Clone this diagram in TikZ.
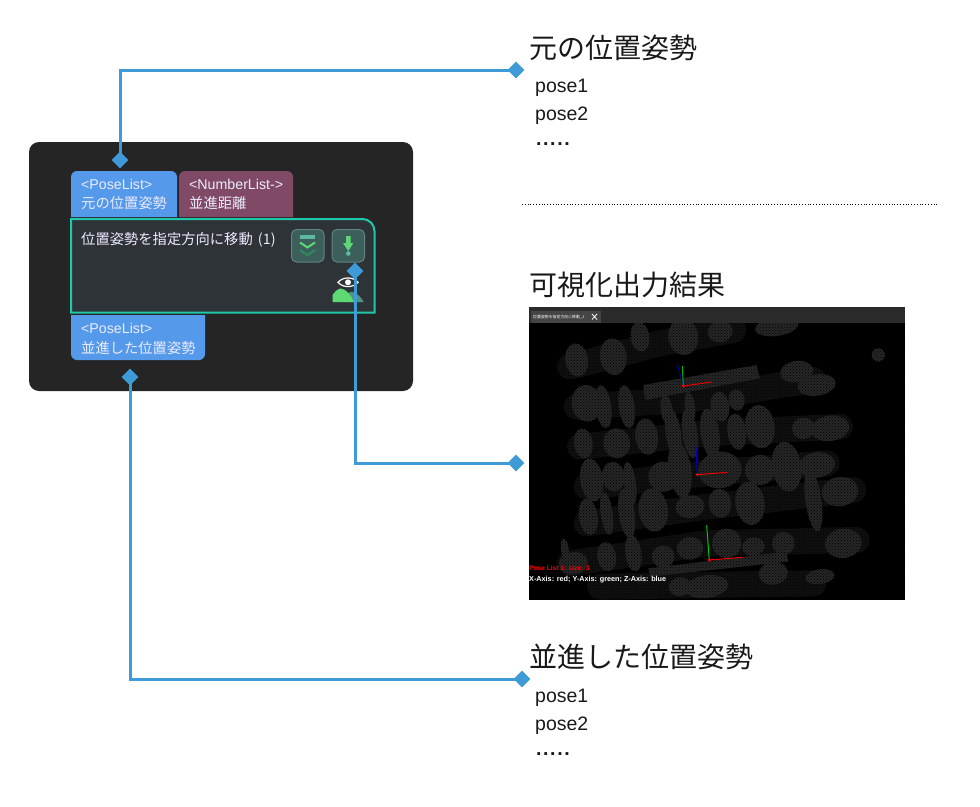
\documentclass[tikz,border=0pt]{standalone}
\usepackage{fontspec}
\setmainfont{Liberation Sans}
\newfontfamily\jpfont{Noto Sans CJK JP}
\usepackage{tikz}
\usetikzlibrary{shapes.geometric, patterns}
\definecolor{panelgray}{HTML}{252525}
\definecolor{poseblue}{HTML}{5599EA}
\definecolor{numbermaroon}{HTML}{804A66}
\definecolor{nodeslate}{HTML}{2E3338}
\definecolor{nodeteal}{HTML}{1FC8A8}
\definecolor{wireblue}{HTML}{3F9BD8}
\definecolor{btnfill}{HTML}{3D5F5C}
\definecolor{btnedge}{HTML}{5F8482}
\definecolor{iconteal}{HTML}{5FB8A0}
\definecolor{icongreen}{HTML}{5DD873}
\definecolor{icondark}{HTML}{2F8A5F}
\definecolor{blobgray}{HTML}{272727}
\definecolor{bandgray}{HTML}{101010}
\tikzset{
  wire/.style={draw=wireblue, line width=3pt},
  pin/.style={diamond, fill=wireblue, minimum width=17pt, minimum height=17pt, inner sep=0pt},
  porttext/.style={anchor=west, inner sep=0pt, text=white!92!blue},
  titletext/.style={anchor=west, inner sep=0pt, text=black!90, font=\jpfont\fontsize{28}{30}\selectfont},
  listtext/.style={anchor=west, inner sep=0pt, text=black!90, font=\fontsize{19.5}{22}\selectfont},
  smalljp/.style={font=\jpfont\fontsize{14.3}{16}\selectfont},
  smalllatin/.style={font=\fontsize{14.2}{16}\selectfont},
  iconbutton/.style={fill=btnfill, draw=btnedge, line width=1pt, rounded corners=5pt},
  cloudblob/.style={fill=blobgray},
  cloudband/.style={draw=bandgray, line width=26pt, line cap=round},
}
\begin{document}
\begin{tikzpicture}[x=1pt, y=-1pt]
  \useasboundingbox (0,0) rectangle (980,806);

  % dark panel behind the step
  \fill[panelgray, rounded corners=10pt] (29,142) rectangle (413,391);

  % input ports
  \fill[poseblue] (71,217) [rounded corners=6pt] -- (71,171) -- (177,171) [sharp corners] -- (177,217) -- cycle;
  \fill[numbermaroon] (179,217) [rounded corners=6pt] -- (179,171) -- (293,171) [sharp corners] -- (293,217) -- cycle;
  \node[porttext, smalllatin] (inname) at (81,184) {<PoseList>};
  \node[porttext, smalljp] (inlabel) at (81,203) {元の位置姿勢};
  \node[porttext, smalllatin] (numname) at (189,184) {<NumberList->};
  \node[porttext, smalljp] (numlabel) at (189,203) {並進距離};

  % step body
  \filldraw[fill=nodeslate, draw=nodeteal, line width=2pt]
    (71,219) -- (363,219) [rounded corners=12pt] -- (374.5,219) [sharp corners] -- (374.5,312.5) -- (71,312.5) -- cycle;
  \node[porttext, smalljp] (steptitle) at (81,240) {位置姿勢を指定方向に移動\kern2pt{} (1)};

  % output port
  \fill[poseblue] (71,315) [rounded corners=6pt] -- (71,360) -- (205,360) [sharp corners] -- (205,315) -- cycle;
  \node[porttext, smalllatin] (outname) at (81,328) {<PoseList>};
  \node[porttext, smalljp] (outlabel) at (81,348) {並進した位置姿勢};

  % buttons
  \path[iconbutton] (291.5,229.5) rectangle (324,262);
  \path[iconbutton] (332,229.5) rectangle (364.5,262);
  \fill[iconteal] (299.5,235) rectangle (315,238.7);
  \draw[icongreen, line width=2pt] (300,242.5) -- (307.5,247.5) -- (315,242.5);
  \draw[icondark, line width=2pt] (300,250) -- (307.5,255) -- (315,250);
  \fill[icongreen] (346,236) -- (350.7,236) -- (350.7,243) -- (353.3,243) -- (348.3,251) -- (343,243) -- (346,243) -- cycle;
  \fill[iconteal] (348.3,253.5) circle (2.3);

  % visibility icon
  \fill[iconteal!80!black] (343,302) .. controls (346,295) and (350,290) .. (353,292) .. controls (358,294) and (362,298) .. (363.5,302) -- cycle;
  \fill[icongreen] (332.5,302) -- (332.5,295) .. controls (336,290) and (339,288.5) .. (341,288.5) .. controls (346,289) and (351,295) .. (354,302) -- cycle;
  \draw[white, line width=1.2pt] (338,282.3) .. controls (343,276.5) and (353,276.5) .. (358,282.3) .. controls (353,288) and (343,288) .. (338,282.3) -- cycle;
  \fill[white] (348,282.3) circle (3);

  % pins and connectors
  \node[pin] (inpin) at (120,160) {};
  \node[pin] (origpin) at (516,70) {};
  \node[pin] (vispin) at (355,271) {};
  \node[pin] (imagepin) at (516,463) {};
  \node[pin] (outpin) at (130,377) {};
  \node[pin] (movedpin) at (522,679) {};
  \draw[wire] (inpin.center) |- (origpin.center);
  \draw[wire] (vispin.center) |- (imagepin.center);
  \draw[wire] (outpin.center) |- (movedpin.center);

  % original poses
  \node[titletext] (origtitle) at (529,48) {元の位置姿勢};
  \node[listtext] (origfirst) at (535,88) {pose1};
  \node[listtext] (origsecond) at (535,116) {pose2};
  \node[listtext, font=\bfseries\fontsize{19.5}{22}\selectfont] (origdots) at (536,144) {.\kern1.6pt.\kern1.6pt.\kern1.6pt.\kern1.6pt.};

  % separator
  \coordinate (sepleft) at (522,204);
  \coordinate (sepright) at (939,204);
  \draw[black, dotted, line width=0.8pt] (sepleft) -- (sepright);

  % viewer picture
  \node[titletext] (vistitle) at (529,285) {可視化出力結果};
  \fill[black] (529,307) rectangle (905,600);
  \begin{scope}
    \clip (529,307) rectangle (905,600);
    \begin{scope}[shift={(520,300)}, x=0.3333pt, y=-0.3333pt]
      % shafts under the rollers
      \draw[cloudband] (150,200) -- (420,130) -- (640,90);
      \draw[cloudband] (170,320) -- (500,300) -- (880,240);
      \draw[cloudband] (180,440) -- (560,400) -- (960,380);
      \draw[cloudband] (200,560) -- (560,520) -- (920,490);
      \draw[cloudband] (200,670) -- (560,620) -- (1000,570);
      \draw[cloudband] (150,790) -- (560,730) -- (1010,720);
      \draw[cloudband] (240,860) -- (880,850);
      \foreach \cx/\cy/\rx/\ry in {
        170/180/34/50, 280/170/40/55, 360/110/28/45, 490/110/45/55, 600/95/38/32, 770/80/65/28,
        830/215/50/32, 890/255/58/32, 1075/165/20/20,
        200/310/45/55, 250/320/24/65, 320/320/24/65, 440/330/18/45, 510/320/15/45, 600/320/28/45, 650/300/24/32,
        930/385/58/38, 850/385/34/32, 720/380/44/65, 650/395/28/55, 570/400/28/75, 510/400/23/75, 460/400/23/75, 380/410/34/55, 290/430/40/45, 190/430/28/45,
        215/540/34/65, 280/530/34/45, 330/550/18/65, 430/530/45/45, 480/510/34/85, 600/510/65/55, 720/510/45/45, 800/500/44/75, 890/495/55/38,
        960/575/55/44, 880/600/24/95, 690/610/44/65, 600/610/34/44, 510/620/44/34, 400/630/44/65, 320/640/24/75, 260/640/18/65, 205/650/28/55,
        970/730/55/44, 790/730/34/34, 700/740/34/28, 620/730/44/44, 510/745/40/34, 430/770/34/34, 340/760/24/55, 260/770/28/44, 160/790/44/34, 135/750/12/34,
        760/820/44/34, 560/860/65/34, 900/830/44/22, 480/860/34/28} {
        \fill[cloudblob, rotate around={8:(\cx,\cy)}] (\cx,\cy) ellipse [x radius=\rx, y radius=\ry];
      }
      % long bars of the parts
      \fill[cloudblob] (370,255) -- (710,195) -- (720,235) -- (375,300) -- cycle;
      \fill[cloudblob] (385,805) -- (800,755) -- (805,785) -- (390,830) -- cycle;
      \fill[pattern=crosshatch dots, pattern color=black] (20,60) rectangle (1160,900);
      % axes of the poses
      \draw[blue!60!black, line width=1pt] (490,258) -- (472,192);
      \draw[green!70!black, line width=1pt] (490,258) -- (487,198);
      \draw[red!90!black, line width=1pt] (490,258) -- (575,246);
      \draw[blue!80!black, line width=1pt] (532,524) -- (528,440);
      \draw[red!90!black, line width=1pt] (532,524) -- (622,517);
      \draw[green!80!black, line width=1pt] (568,780) -- (560,676);
      \draw[red!90!black, line width=1pt] (568,780) -- (670,772);
      \foreach \px/\py in {490/258, 532/524, 568/780} {
        \fill[red] (\px,\py) circle (5);
      }
    \end{scope}
  \end{scope}
  \fill[black!83] (529,307) rectangle (905,323);
  \fill[black!73] (531,311) rectangle (601,322.5);
  \node[anchor=west, inner sep=0pt, text=white!70, font=\jpfont\fontsize{3.9}{5}\selectfont] (tabname) at (533,317) {位置姿勢を指定方向に移動\_1};
  \draw[white!85, line width=0.8pt] (592,314) -- (597,319.5) (597,314) -- (592,319.5);
  \node[anchor=west, inner sep=0pt, text=red, font=\bfseries\fontsize{6.6}{8}\selectfont] (listsize) at (529,568) {Pose List 1: size: 3};
  \node[anchor=west, inner sep=0pt, text=white, font=\bfseries\fontsize{7.25}{8}\selectfont] (axisnote) at (529,580) {X-Axis: red; Y-Axis: green; Z-Axis: blue};

  % moved poses
  \node[titletext] (movedtitle) at (529,657) {並進した位置姿勢};
  \node[listtext] (movedfirst) at (535,698) {pose1};
  \node[listtext] (movedsecond) at (535,726) {pose2};
  \node[listtext, font=\bfseries\fontsize{19.5}{22}\selectfont] (moveddots) at (536,754) {.\kern1.6pt.\kern1.6pt.\kern1.6pt.\kern1.6pt.};
\end{tikzpicture}
\end{document}
